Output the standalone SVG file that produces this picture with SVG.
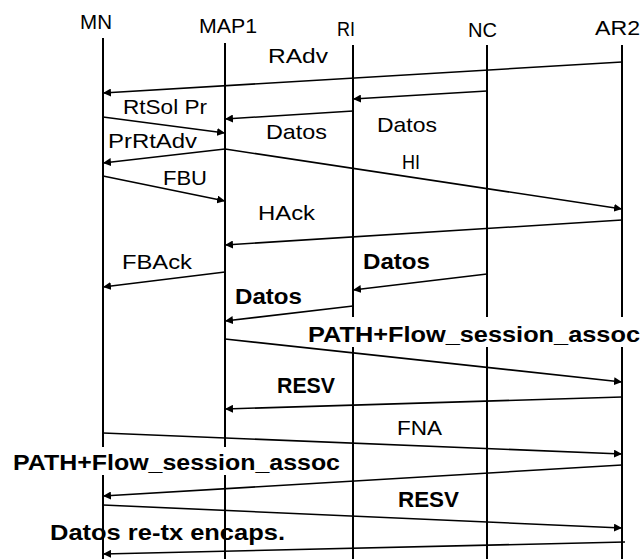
<svg xmlns="http://www.w3.org/2000/svg" width="643" height="559" viewBox="0 0 643 559">
<style>
.life{stroke:#000;stroke-width:2;fill:none}
.msg{stroke:#000;stroke-width:1.6;fill:none;marker-end:url(#ah)}
.t{font-family:"Liberation Sans",Arial,sans-serif;font-size:21px;fill:#000}
.b{font-family:"Liberation Sans",Arial,sans-serif;font-size:22px;font-weight:bold;fill:#000}
</style>
<defs>
<marker id="ah" markerUnits="userSpaceOnUse" markerWidth="9" markerHeight="8" refX="8" refY="4" orient="auto">
<path d="M0,0 L8,4 L0,8 z" fill="#000"/>
</marker>
</defs>
<rect width="643" height="559" fill="#fff"/>
<g id="MN">
<text class="t" x="80" y="29" textLength="32" lengthAdjust="spacingAndGlyphs">MN</text>
<path class="life" d="M103,38 V447 M103,475 V559"/>
</g>
<g id="MAP1">
<text class="t" x="199" y="33" textLength="58" lengthAdjust="spacingAndGlyphs">MAP1</text>
<path class="life" d="M225,43 V447 M225,475 V559"/>
</g>
<g id="RI">
<text class="t" x="337" y="36" textLength="18" lengthAdjust="spacingAndGlyphs">RI</text>
<path class="life" d="M353,45 V317 M353,347 V559"/>
</g>
<g id="NC">
<text class="t" x="468" y="37" textLength="29" lengthAdjust="spacingAndGlyphs">NC</text>
<path class="life" d="M487,45 V317 M487,347 V559"/>
</g>
<g id="AR2">
<text class="t" x="595" y="35" textLength="45" lengthAdjust="spacingAndGlyphs">AR2</text>
<path class="life" d="M622,45 V317 M622,347 V559"/>
</g>
<g id="connectors">
<line class="msg" x1="622" y1="62" x2="103" y2="93"/>
<line class="msg" x1="487" y1="91" x2="353" y2="99"/>
<line class="msg" x1="103" y1="117" x2="225" y2="133"/>
<line class="msg" x1="353" y1="111" x2="225" y2="119"/>
<line class="msg" x1="225" y1="149" x2="103" y2="163"/>
<line class="msg" x1="225" y1="149" x2="622" y2="209"/>
<line class="msg" x1="103" y1="176" x2="225" y2="201"/>
<line class="msg" x1="622" y1="220" x2="225" y2="245"/>
<line class="msg" x1="225" y1="272" x2="103" y2="287"/>
<line class="msg" x1="487" y1="274" x2="353" y2="290"/>
<line class="msg" x1="353" y1="306" x2="225" y2="321"/>
<line class="msg" x1="225" y1="339" x2="622" y2="382"/>
<line class="msg" x1="622" y1="397" x2="225" y2="409"/>
<line class="msg" x1="103" y1="433" x2="622" y2="454"/>
<line class="msg" x1="622" y1="465" x2="103" y2="496"/>
<line class="msg" x1="103" y1="505" x2="622" y2="528"/>
<line class="msg" x1="625" y1="542" x2="103" y2="554"/>
</g>
<g id="labels">
<text class="t" x="268" y="63" textLength="60" lengthAdjust="spacingAndGlyphs">RAdv</text>
<text class="t" x="123" y="114" textLength="84" lengthAdjust="spacingAndGlyphs">RtSol Pr</text>
<text class="t" x="266" y="139" textLength="61" lengthAdjust="spacingAndGlyphs">Datos</text>
<text class="t" x="377" y="132" textLength="60" lengthAdjust="spacingAndGlyphs">Datos</text>
<text class="t" x="108" y="148" textLength="89" lengthAdjust="spacingAndGlyphs">PrRtAdv</text>
<text class="t" x="402" y="169" textLength="18" lengthAdjust="spacingAndGlyphs">HI</text>
<text class="t" x="163" y="185" textLength="44" lengthAdjust="spacingAndGlyphs">FBU</text>
<text class="t" x="258" y="220" textLength="57" lengthAdjust="spacingAndGlyphs">HAck</text>
<text class="t" x="122" y="269" textLength="70" lengthAdjust="spacingAndGlyphs">FBAck</text>
<text class="b" x="363" y="269" textLength="67" lengthAdjust="spacingAndGlyphs">Datos</text>
<text class="b" x="235" y="304" textLength="67" lengthAdjust="spacingAndGlyphs">Datos</text>
<text class="b" x="308" y="342" textLength="332" lengthAdjust="spacingAndGlyphs">PATH+Flow_session_assoc</text>
<text class="b" x="277" y="393" textLength="58" lengthAdjust="spacingAndGlyphs">RESV</text>
<text class="t" x="397" y="435" textLength="45" lengthAdjust="spacingAndGlyphs">FNA</text>
<text class="b" x="13" y="470" textLength="327" lengthAdjust="spacingAndGlyphs">PATH+Flow_session_assoc</text>
<text class="b" x="398" y="507" textLength="61" lengthAdjust="spacingAndGlyphs">RESV</text>
<text class="b" x="50" y="540" textLength="235" lengthAdjust="spacingAndGlyphs">Datos re-tx encaps.</text>
</g>
</svg>
